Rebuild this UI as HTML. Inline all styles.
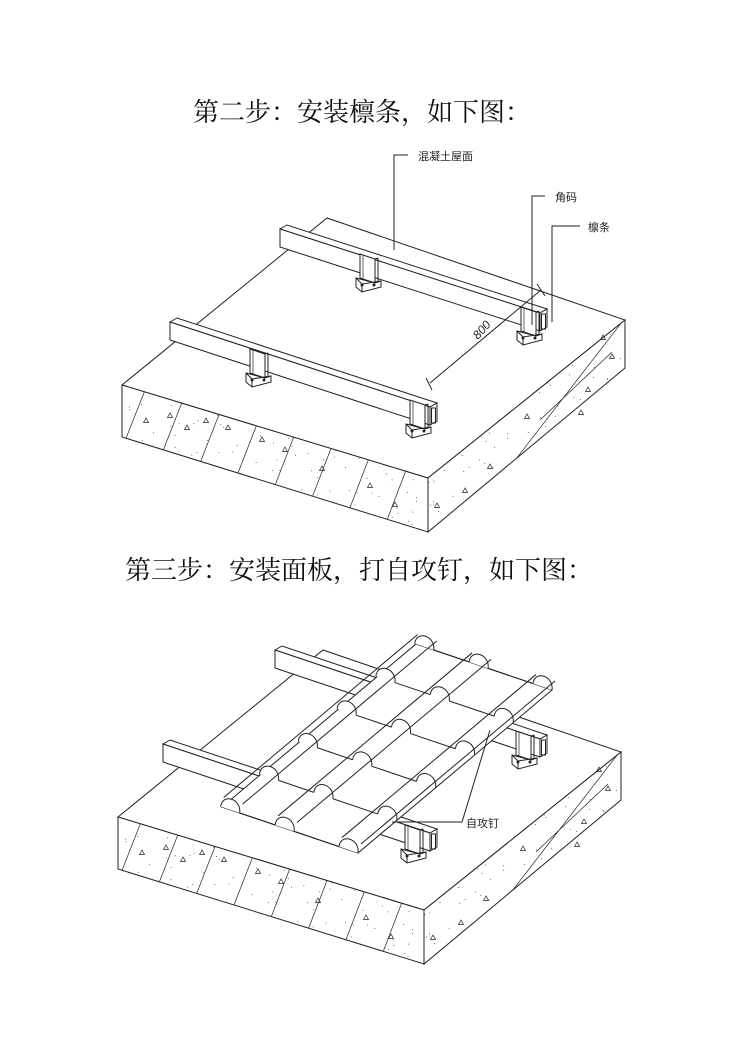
<!DOCTYPE html>
<html><head><meta charset="utf-8">
<style>
html,body{margin:0;padding:0;background:#fff;}
body{width:750px;height:1060px;position:relative;overflow:hidden;}
.t{position:absolute;font-family:"Liberation Serif","Noto Serif CJK SC",serif;font-size:26px;color:#111;white-space:nowrap;}
svg{position:absolute;left:0;top:0;}
svg text{font-family:"Liberation Sans","Noto Sans CJK SC",sans-serif;font-size:11px;fill:#222;}
</style></head><body>
<div class="t" style="left:193px;top:92px;">第二步：安装檩条，如下图：</div>
<div class="t" style="left:125px;top:550px;">第三步：安装面板，打自攻钉，如下图：</div>
<svg id="s" width="750" height="1060" viewBox="0 0 750 1060" fill="none" stroke="#222" stroke-width="1">
<g id="slab1"></g>
<g id="slab2" transform="translate(-4,432)"></g>
<g id="top"></g>
<g id="bot"></g>
<polyline points="408,155 394,155 394,250"/>
<text x="418" y="160" stroke="none">混凝土屋面</text>
<polyline points="545,196 532,196 532,325"/>
<text x="555" y="201" stroke="none">角码</text>
<polyline points="580,226 552,226 552,322"/>
<text x="588" y="231" stroke="none">檩条</text>
<line x1="430" y1="383" x2="541" y2="290"/>
<line x1="426" y1="378" x2="432" y2="390"/>
<line x1="537" y1="284" x2="545" y2="296"/>
<text x="0" y="0" stroke="none" transform="translate(478,340) rotate(-48)" style="font-size:12px;font-style:italic">800</text>
<polyline points="392,822 462,822 490,730"/>
<text x="466" y="827" stroke="none">自攻钉</text>
</svg>
<script>
var NS="http://www.w3.org/2000/svg";
function el(g,tag,a){var e=document.createElementNS(NS,tag);for(var k in a)e.setAttribute(k,a[k]);g.appendChild(e);return e;}
function poly(g,pts,fill){return el(g,"polygon",{points:pts.map(p=>p.join(",")).join(" "),fill:fill||"#fff"});}
function line(g,a,b,w){return el(g,"line",{x1:a[0],y1:a[1],x2:b[0],y2:b[1],"stroke-width":w||1});}
function lerp(a,b,t){return [a[0]+(b[0]-a[0])*t,a[1]+(b[1]-a[1])*t];}
function slab(g){
 var L=[122,385],F=[428,478],R=[625,320],B=[327,218],Lb=[122,437],Fb=[428,532],Rb=[625,368];
 poly(g,[L,F,R,B]);
 poly(g,[L,F,Fb,Lb]);
 poly(g,[F,R,Rb,Fb]);
 for(var i=0;i<8;i++){var t=(i+0.6)/8.2;var a=lerp(Lb,Fb,t-0.06),b=lerp(L,F,t);if(t-0.06<0)a=lerp(L,Lb,0.5);line(g,[a[0],a[1]],b,0.7);}
 line(g,lerp(Fb,Rb,0.45),lerp(F,R,0.98),0.7);
 line(g,[540,420],[612,352],0.7);
 var seed=3;function rnd(){seed=(seed*9301+49297)%233280;return seed/233280;}
 for(var k=0;k<60;k++){var u=rnd(),v=rnd();var top=lerp(L,F,u),bot=lerp(Lb,Fb,u);var p=lerp(top,bot,v);
  el(g,"circle",{cx:p[0],cy:p[1],r:0.5,fill:"#444",stroke:"none"});}
 for(var k=0;k<40;k++){var u=rnd(),v=rnd();var top=lerp(F,R,u),bot=lerp(Fb,Rb,u);var p=lerp(top,bot,v);
  el(g,"circle",{cx:p[0],cy:p[1],r:0.5,fill:"#444",stroke:"none"});}
 var tr=[[146,421],[170,416],[187,428],[206,421],[228,428],[262,440],[285,450],[322,469],[370,486],[395,505],[603,338],[612,357],[588,390],[581,413],[527,417],[490,467],[465,491],[437,506]];
 tr.forEach(function(p){el(g,"path",{d:"M"+p[0]+","+(p[1]-3)+" l-2.5,4.5 h5 z","stroke-width":0.7});});
}
slab(document.getElementById("slab1"));
slab(document.getElementById("slab2"));
function purlin(g,a,b){
 var d=[7,-4],h=18;
 poly(g,[a,[a[0]+d[0],a[1]+d[1]],[b[0]+d[0],b[1]+d[1]],b]);
 poly(g,[a,b,[b[0],b[1]+h],[a[0],a[1]+h]]);
 poly(g,[b,[b[0]+d[0],b[1]+d[1]],[b[0]+d[0],b[1]+d[1]+h],[b[0],b[1]+h]]);
 el(g,"rect",{x:b[0]+1.5,y:b[1]+1,width:d[0]-3,height:h-3});
}
function bracket(g,x,y){
 // vertical plate
 poly(g,[[x,y],[x+15,y+5],[x+15,y+29],[x,y+24]]);
 line(g,[x+3,y+1],[x+3,y+25],0.7);
 line(g,[x+15,y+5],[x+18,y+4]);line(g,[x+18,y+4],[x+18,y+28]);line(g,[x+18,y+28],[x+15,y+29]);
 // base plate
 poly(g,[[x-4,y+24],[x+15,y+29],[x+21,y+27],[x+21,y+33],[x+2,y+38],[x-4,y+33]]);
 line(g,[x-4,y+24],[x+2,y+30]);line(g,[x+2,y+30],[x+21,y+27]);line(g,[x+2,y+30],[x+2,y+38]);
 el(g,"circle",{cx:x+2,cy:y+31,r:1,fill:"#222"});el(g,"circle",{cx:x+14,cy:y+31,r:1,fill:"#222"});
}
var T=document.getElementById("top");
purlin(T,[280,229],[540,313]);
purlin(T,[170,322],[430,407]);
bracket(T,360,254);bracket(T,250,349);
bracket(T,521,307);bracket(T,410,400);
var Bg=document.getElementById("bot");
purlin(Bg,[275,650],[540,739]);
purlin(Bg,[163,744],[430,833]);
bracket(Bg,516,731);bracket(Bg,405,825);
var O=[222,807],S=[194,-163],Tt=[136,46];
function P(s,t){return [O[0]+S[0]*s+Tt[0]*t,O[1]+S[1]*s+Tt[1]*t];}
poly(Bg,[P(0,0),P(1,0),P(1,1),P(0,1)]);
var ribs=[0.06,0.46,0.93],rw=0.07;
for(var j=0;j<=5;j++){var s=j/5;
 var prev=0;
 ribs.forEach(function(r){line(Bg,P(s,prev),P(s,r-rw));prev=r+rw;});
 line(Bg,P(s,prev),P(s,1));
}
ribs.forEach(function(r){
 for(var j=0;j<=5;j++){var s=j/5;
  var p1=P(s,r-rw),p2=P(s,r+rw);
  el(Bg,"path",{d:"M"+p1[0]+","+p1[1]+" C"+(p1[0]+2)+","+(p1[1]-14)+" "+(p2[0]+2)+","+(p2[1]-14)+" "+p2[0]+","+p2[1],fill:"#fff"});
 }
 var q1=P(0,r-rw),q2=P(1,r-rw);q1=[q1[0]+3,q1[1]-9];q2=[q2[0]+3,q2[1]-9];
 var w1=P(0,r+rw),w2=P(1,r+rw);w1=[w1[0]+3,w1[1]-9];w2=[w2[0]+3,w2[1]-9];
 line(Bg,q1,q2);line(Bg,w1,w2);
});
</script>
</body></html>
